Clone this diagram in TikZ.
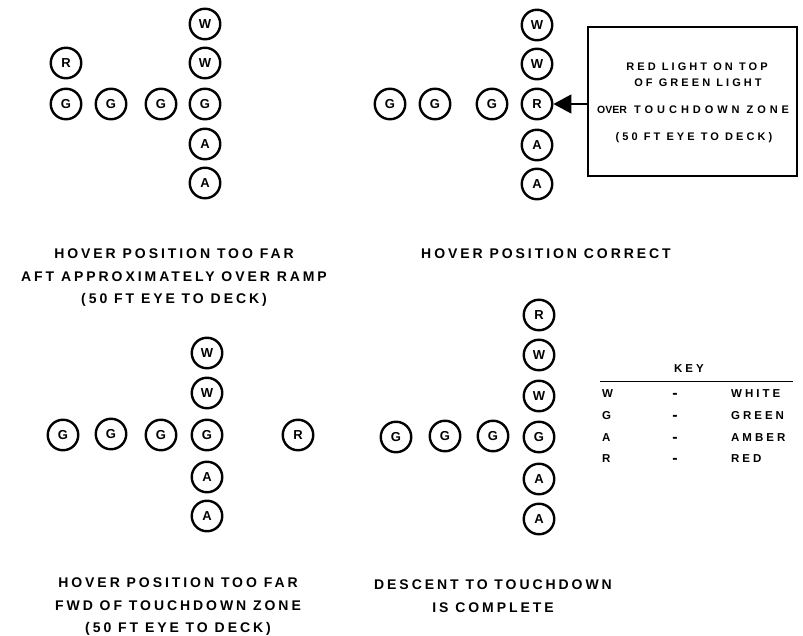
\documentclass[tikz,border=0pt]{standalone}
\usepackage{fontspec}
\usetikzlibrary{arrows.meta}
\setmainfont{Liberation Sans}
% spaced caption lettering and lamp lettering
\newfontfamily\capfont{Liberation Sans Bold}[LetterSpace=21]
\newfontfamily\boxfont{Liberation Sans Bold}[LetterSpace=28]
\newfontfamily\wideboxfont{Liberation Sans Bold}[LetterSpace=36]
\newfontfamily\keyfont{Liberation Sans Bold}[LetterSpace=26]
\newfontfamily\lampfont{Liberation Sans Bold}
\begin{document}
\begin{tikzpicture}[x=1pt,y=-1pt,
  lamp/.style={circle,draw,line width=2.4pt,minimum size=30.5pt,inner sep=0pt,
    font=\lampfont\fontsize{13}{13}\selectfont},
  caption/.style={align=center,inner sep=0pt,
    font=\capfont\fontsize{14}{22.5}\selectfont},
  boxtext/.style={inner sep=0pt,anchor=base,font=\boxfont\fontsize{11}{11}\selectfont},
  keytext/.style={inner sep=0pt,font=\keyfont\fontsize{11.5}{11.5}\selectfont},
  keydash/.style={inner sep=0pt,font=\lampfont\fontsize{16}{16}\selectfont},
  callout/.style={draw,line width=1.8pt}]
\useasboundingbox (0,0) rectangle (803,636);

% ---- upper left: too far aft ----
\node[lamp] (a1) at (205,24)  {W};
\node[lamp] (a2) at (205,63)  {W};
\node[lamp] (a3) at (205,104) {G};
\node[lamp] (a4) at (205,144) {A};
\node[lamp] (a5) at (205,183) {A};
\node[lamp] (ag1) at (66,104)  {G};
\node[lamp] (ag2) at (111,104) {G};
\node[lamp] (ag3) at (161,104) {G};
\node[lamp] (ar)  at (66,63)   {R};
\node[caption] (acap) at (174,278)
  {HOVER POSITION TOO FAR\\AFT APPROXIMATELY OVER RAMP\\(50 FT EYE TO DECK)};

% ---- upper right: correct ----
\node[lamp] (b1) at (537,25)  {W};
\node[lamp] (b2) at (537,64)  {W};
\node[lamp] (b3) at (537,104) {R};
\node[lamp] (b4) at (537,145) {A};
\node[lamp] (b5) at (537,184) {A};
\node[lamp] (bg1) at (390,104) {G};
\node[lamp] (bg2) at (435,104) {G};
\node[lamp] (bg3) at (492,104) {G};
\node[caption] (bcap) at (546,254) {HOVER POSITION CORRECT};

\node[callout,minimum width=209pt,minimum height=149pt,inner sep=0pt]
  (note) at (692.5,101.5) {};
\node[boxtext] (n1) at (697,71)  {RED LIGHT ON TOP};
\node[boxtext] (n2) at (698,87)  {OF GREEN LIGHT};
\node[boxtext,anchor=base west] (n3) at (597,114)
  {\lampfont\fontsize{10.5}{10.5}\selectfont OVER};
\node[boxtext,anchor=base west,font=\wideboxfont\fontsize{11}{11}\selectfont]
  (n3b) at (634,114) {TOUCHDOWN ZONE};
\node[boxtext] (n4) at (694,141) {(50 FT EYE TO DECK)};
\draw[line width=1.6pt,-{Triangle[length=18pt,width=19pt]}]
  (note.west |- b3.east) -- (b3.east);

% ---- lower left: too far forward ----
\node[lamp] (c1) at (207,353) {W};
\node[lamp] (c2) at (207,393) {W};
\node[lamp] (c3) at (207,435) {G};
\node[lamp] (c4) at (207,477) {A};
\node[lamp] (c5) at (207,516) {A};
\node[lamp] (cg1) at (63,435)  {G};
\node[lamp] (cg2) at (111,434) {G};
\node[lamp] (cg3) at (161,435) {G};
\node[lamp] (cr)  at (298,435) {R};
\node[caption] (ccap) at (178,607)
  {HOVER POSITION TOO FAR\\FWD OF TOUCHDOWN ZONE\\(50 FT EYE TO DECK)};

% ---- lower right: touchdown ----
\node[lamp] (d0) at (539,315) {R};
\node[lamp] (d1) at (539,355) {W};
\node[lamp] (d2) at (539,396) {W};
\node[lamp] (d3) at (539,437) {G};
\node[lamp] (d4) at (539,479) {A};
\node[lamp] (d5) at (539,519) {A};
\node[lamp] (dg1) at (396,437) {G};
\node[lamp] (dg2) at (445,436) {G};
\node[lamp] (dg3) at (493,436) {G};
\node[caption] (dcap) at (493,596)
  {DESCENT TO TOUCHDOWN\\IS COMPLETE};

% ---- key ----
\node[keytext,anchor=base] (key) at (689,372) {KEY};
\coordinate (kl) at (600,381.5);
\coordinate (kr) at (793,381.5);
\draw[line width=1.5pt] (kl) -- (kr);
\foreach \l/\w/\y/\n in {W/WHITE/397/kw,G/GREEN/419/kg,A/AMBER/441/ka,R/RED/462/kr}{
  \node[keytext,anchor=base west] (\n l) at (602,\y) {\l};
  \node[keydash,anchor=base] (\n d) at (675,\y+1) {-};
  \node[keytext,anchor=base west] (\n w) at (731,\y) {\w};
}
\end{tikzpicture}
\end{document}
